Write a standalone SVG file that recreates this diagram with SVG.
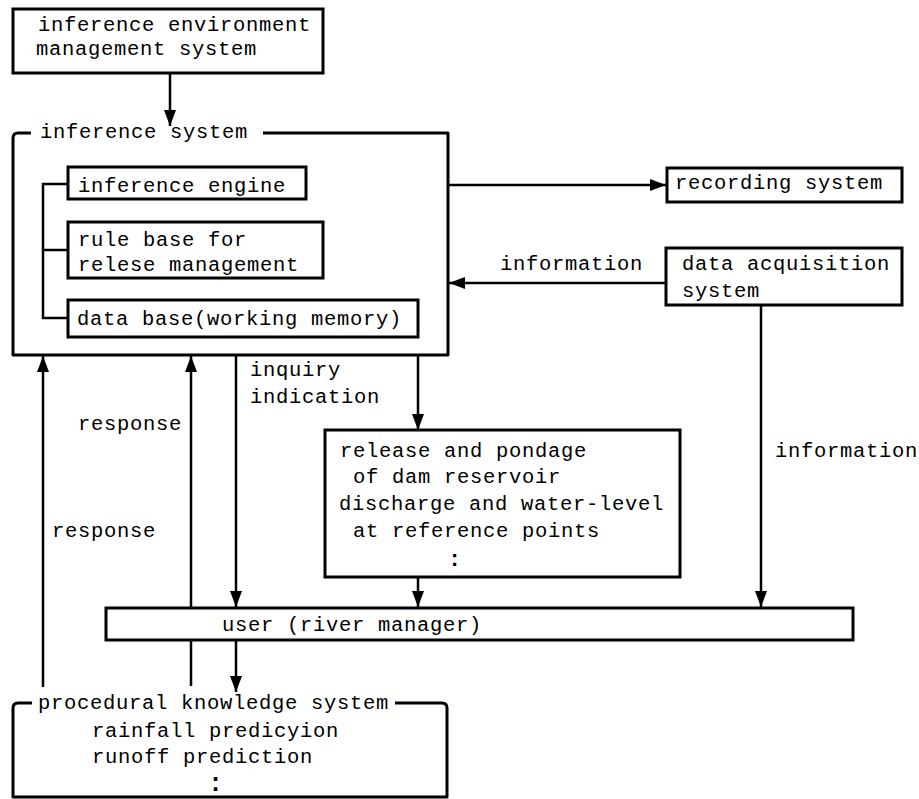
<svg xmlns="http://www.w3.org/2000/svg" width="919" height="799" viewBox="0 0 919 799">
<style>
.bg{fill:#fff}
.box{fill:#fff;stroke:#000;stroke-width:3}
.frame{fill:none;stroke:#000;stroke-width:3;stroke-linejoin:round}
.ln{fill:none;stroke:#000;stroke-width:2.5}
.arr{fill:none;stroke:#000;stroke-width:2.5;marker-end:url(#ah)}
.t{font-family:"Liberation Mono","DejaVu Sans Mono",monospace;font-size:20.5px;letter-spacing:0.7px;fill:#000}
.dots{font-family:"Liberation Mono","DejaVu Sans Mono",monospace;font-weight:bold;fill:#000}
</style>
<defs>
<marker id="ah" markerUnits="userSpaceOnUse" viewBox="0 0 16 12" markerWidth="16" markerHeight="12" refX="16" refY="6" orient="auto">
<path d="M0,0 L16,6 L0,12 z" fill="#000"/>
</marker>
</defs>
<rect class="bg" x="0" y="0" width="919" height="799"/>

<g id="connectors">
<line class="arr" x1="170" y1="73" x2="170" y2="126"/>
<line class="arr" x1="448" y1="185" x2="666" y2="185"/>
<line class="arr" x1="666" y1="283" x2="449" y2="283"/>
<line class="arr" x1="761" y1="305" x2="761" y2="607"/>
<line class="arr" x1="418" y1="355" x2="418" y2="430"/>
<line class="arr" x1="418" y1="577" x2="418" y2="607"/>
<line class="arr" x1="43" y1="687" x2="43" y2="356"/>
<line class="arr" x1="191" y1="686" x2="191" y2="356"/>
<line class="arr" x1="236" y1="355" x2="236" y2="607"/>
<line class="arr" x1="236" y1="640" x2="236" y2="692"/>
<text class="t" x="500" y="270">information</text>
<text class="t" x="775" y="457">information</text>
<text class="t" x="250" y="376">inquiry</text>
<text class="t" x="250" y="403">indication</text>
<text class="t" x="78" y="430">response</text>
<text class="t" x="52" y="537">response</text>
</g>

<g id="env-mgmt">
<rect class="box" x="13" y="9" width="310" height="64"/>
<text class="t" x="38" y="31">inference environment</text>
<text class="t" x="36" y="55">management system</text>
</g>

<g id="inference-system">
<path class="frame" d="M31,133 L18,133 Q13,133 13,138 L13,355 L448,355 L448,133 L263,133"/>
<text class="t" x="40" y="138">inference system</text>
<path class="ln" d="M68,184 L43,184 L43,318 L68,318 M43,250 L68,250"/>
</g>

<g id="inference-engine">
<rect class="box" x="68" y="167" width="238" height="32"/>
<text class="t" x="78" y="192">inference engine</text>
</g>

<g id="rule-base">
<rect class="box" x="68" y="222" width="255" height="56"/>
<text class="t" x="78" y="246">rule base for</text>
<text class="t" x="78" y="271">relese management</text>
</g>

<g id="data-base">
<rect class="box" x="68" y="300" width="350" height="37"/>
<text class="t" x="77" y="325">data base(working memory)</text>
</g>

<g id="recording-system">
<rect class="box" x="667" y="168" width="235" height="34"/>
<text class="t" x="675" y="189">recording system</text>
</g>

<g id="data-acquisition">
<rect class="box" x="666" y="248" width="236" height="57"/>
<text class="t" x="682" y="270">data acquisition</text>
<text class="t" x="682" y="297">system</text>
</g>

<g id="release-box">
<rect class="box" x="325" y="430" width="355" height="147"/>
<text class="t" x="340" y="457">release and pondage</text>
<text class="t" x="353" y="483">of dam reservoir</text>
<text class="t" x="339" y="510">discharge and water-level</text>
<text class="t" x="353" y="537">at reference points</text>
<text class="dots" x="448" y="566" font-size="22">:</text>
</g>

<g id="user">
<rect class="box" x="106" y="608" width="747" height="32"/>
<text class="t" x="222" y="631">user (river manager)</text>
</g>

<g id="procedural">
<path class="frame" d="M32,703 L18,703 Q13,703 13,708 L13,797 L447,797 L447,708 Q447,703 442,703 L395,703"/>
<text class="t" x="38" y="709">procedural knowledge system</text>
<text class="t" x="92" y="737">rainfall predicyion</text>
<text class="t" x="92" y="763">runoff prediction</text>
<text class="dots" x="208" y="791" font-size="25">:</text>
</g>
</svg>
